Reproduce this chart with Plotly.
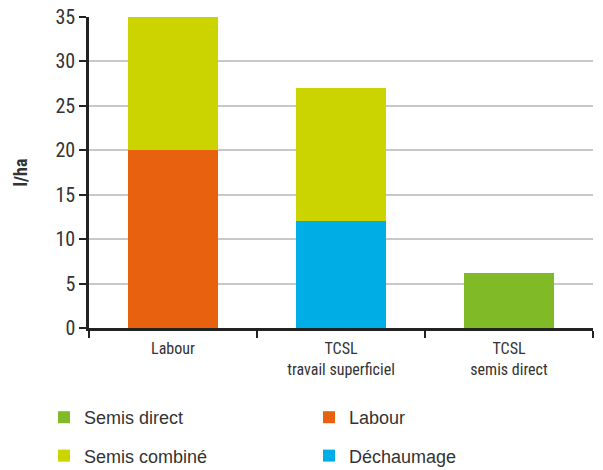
import plotly.graph_objects as go

categories = ["Labour", "TCSL<br>travail superficiel", "TCSL<br>semis direct"]
labour = [20, None, None]
dechaumage = [None, 12, None]
semis_combine = [15, 15, None]
semis_direct = [None, None, 6.2]
y_ticks = [0, 5, 10, 15, 20, 25, 30, 35]

fig = go.Figure()
fig.add_trace(go.Bar(x=categories, y=labour, name="Labour", marker_color="#E8610E",
                     legend="legend2", legendgroup="a", legendrank=1))
fig.add_trace(go.Bar(x=categories, y=dechaumage, name="Déchaumage", marker_color="#00AEE6",
                     legend="legend2", legendgroup="b", legendrank=2))
fig.add_trace(go.Bar(x=categories, y=semis_combine, name="Semis combiné", marker_color="#CCD400",
                     legend="legend", legendgroup="c", legendrank=2))
fig.add_trace(go.Bar(x=categories, y=semis_direct, name="Semis direct", marker_color="#80BA27",
                     legend="legend", legendgroup="d", legendrank=1))
fig.update_traces(marker_line_width=0)

cond = "Liberation Sans Narrow, Arial Narrow, Roboto Condensed, sans-serif"
legfont = dict(family="Liberation Sans, Arial, sans-serif", size=18, color="#333333")
leg_common = dict(
    orientation="v", xref="container", yref="container",
    y=1 - 399 / 470, xanchor="left", yanchor="top",
    traceorder="grouped", tracegroupgap=12, font=legfont, itemwidth=30,
    bgcolor="rgba(0,0,0,0)",
)
fig.update_layout(
    width=603, height=470,
    barmode="stack", bargap=0.47,
    plot_bgcolor="white", paper_bgcolor="white",
    margin=dict(l=89, r=10, t=17, b=142, autoexpand=False),
    font=dict(family=cond, color="#333333"),
    legend=dict(x=44 / 603, **leg_common),
    legend2=dict(x=309 / 603, **leg_common),
    xaxis=dict(
        showline=True, linecolor="#222222", linewidth=2.5,
        ticks="outside", tickson="boundaries", ticklen=7, tickwidth=2, tickcolor="#222222",
        tickfont=dict(family=cond, size=16, color="#333333"),
        ticklabelstandoff=4,
        showgrid=False,
    ),
    yaxis=dict(
        range=[0, 35], tickvals=y_ticks,
        showline=True, linecolor="#222222", linewidth=2.5,
        ticks="outside", ticklen=7, tickwidth=2, tickcolor="#222222",
        tickfont=dict(family=cond, size=20, color="#333333"),
        showgrid=True, gridcolor="#C8C8C8", gridwidth=1.5,
        zeroline=False,
    ),
    annotations=[dict(
        text="<b>l/ha</b>", xref="paper", yref="paper", x=-0.135, y=0.5,
        xanchor="center", yanchor="middle", textangle=-90, showarrow=False,
        font=dict(family=cond, size=18, color="#333333"),
    )],
)

fig.write_html("out.html", config={"displayModeBar": False},
               post_script="document.body.style.margin='0';document.body.style.overflow='hidden';")
